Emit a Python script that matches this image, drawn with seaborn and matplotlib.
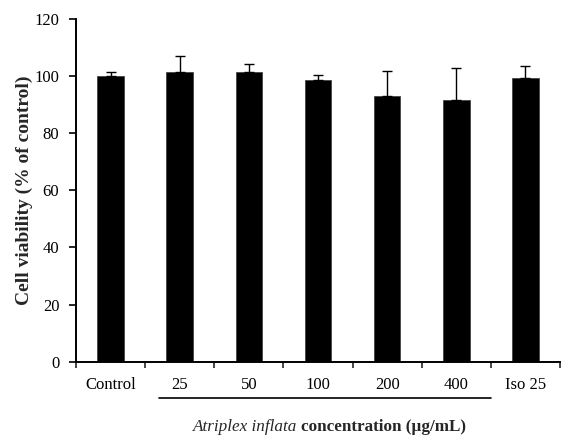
import matplotlib
matplotlib.use("Agg")
import matplotlib.pyplot as plt
import matplotlib.transforms as mtransforms
import seaborn as sns
import pandas as pd
import numpy as np

# Cell viability data
groups = ["Control", "25", "50", "100", "200", "400", "Iso 25"]
viability = [100.0, 101.5, 101.5, 98.8, 93.2, 91.6, 99.2]
sd = [1.4, 5.4, 2.9, 1.6, 8.6, 11.1, 4.2]
y_ticks = [0, 20, 40, 60, 80, 100, 120]

sns.set_style("ticks")
plt.rcParams["font.family"] = ["Liberation Serif", "DejaVu Serif"]

df = pd.DataFrame({"group": groups, "viability": viability})

fig = plt.figure(figsize=(5.68, 4.37), dpi=100)
ax = fig.add_axes([0.1338, 0.1725, 0.8521, 0.7840])

sns.barplot(data=df, x="group", y="viability", order=groups, color="black",
            width=0.385, edgecolor="#444444", linewidth=0.6, ax=ax,
            errorbar=None, saturation=1)

x = np.arange(len(groups))
ax.errorbar(x, viability, yerr=[np.zeros(len(sd)), sd], fmt="none",
            ecolor="black", elinewidth=1.0, capsize=3.3, capthick=1.0)

ax.set_xlim(-0.5, len(groups) - 0.5)
ax.set_ylim(0, 120)
ax.set_yticks(y_ticks)
ax.set_yticklabels([str(v) for v in y_ticks])

# category labels centred, tick marks on the category boundaries
ax.set_xticks(x)
ax.set_xticklabels(groups)
ax.tick_params(axis="x", which="major", length=0, pad=11)
ax.set_xticks(np.arange(-0.5, len(groups), 1.0), minor=True)
ax.tick_params(axis="x", which="minor", length=4, width=1.2, direction="out")
ax.tick_params(axis="y", length=5, width=1.2, direction="out", pad=7)
ax.tick_params(labelsize=12, colors="black")

for side in ("top", "right"):
    ax.spines[side].set_visible(False)
for side in ("left", "bottom"):
    ax.spines[side].set_linewidth(1.4)
    ax.spines[side].set_color("black")

ax.set_xlabel("")
ax.set_ylabel("Cell viability (% of control)", fontsize=14, fontweight="bold")
ax.yaxis.set_label_coords(-0.088, 0.5)

# bracket line under the extract concentrations
trans = mtransforms.blended_transform_factory(ax.transData, ax.transAxes)
ax.plot([0.70, 5.5], [-0.105, -0.105], color="black", lw=1.2,
        transform=trans, clip_on=False)

# axis title: species name in italics, rest in bold
ax.text(2.70, -0.19, "Atriplex inflata", style="italic", fontsize=12.3,
        ha="right", va="center", transform=trans)
ax.text(2.76, -0.19, "concentration (µg/mL)", fontweight="bold", fontsize=12.3,
        ha="left", va="center", transform=trans)

fig.savefig("out.png", dpi=100)
